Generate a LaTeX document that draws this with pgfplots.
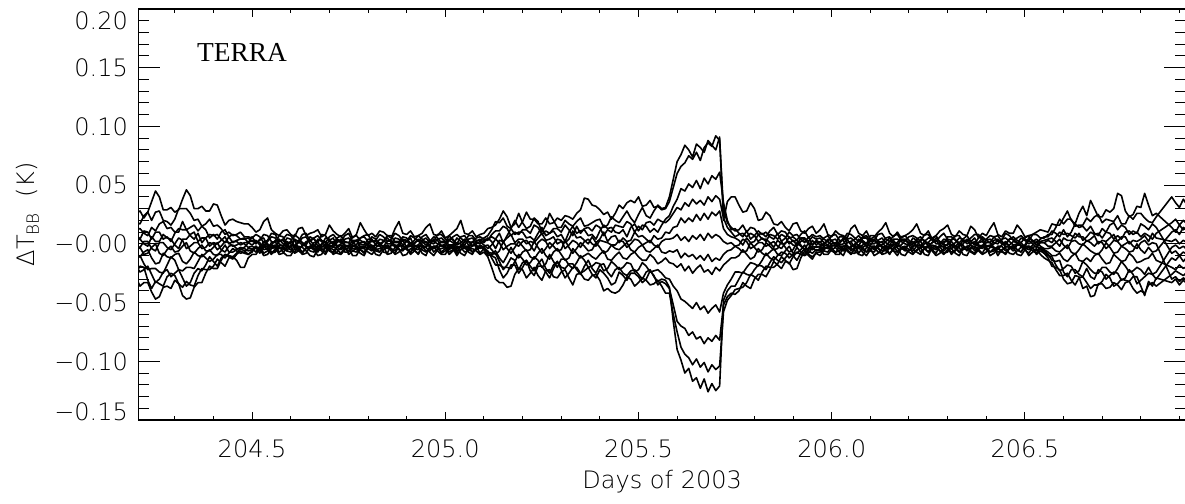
\documentclass[border=0pt]{standalone}
\usepackage{fontspec}
\setmainfont{DejaVu Sans ExtraLight}
\newfontfamily\terrafont{Liberation Serif}
\usepackage{pgfplots}
\pgfplotsset{compat=1.18}
\usepackage{pgfplotstable}

\pgfplotstableread{
x a b c d e f g h i j k l
204.20 26 18 12 8 3 -2 -6 -10 -14 -19 -24 -29
204.21 28 17 13 4 4 -3 -3 -11 -10 -24 -19 -36
204.22 22 24 9 11 0 2 -9 -7 -17 -22 -20 -33
204.23 27 27 7 10 -2 2 -8 -5 -22 -19 -31 -33
204.24 36 20 14 4 6 -4 -3 -12 -21 -26 -38 -41
204.25 45 27 11 10 2 -6 0 -17 -21 -33 -32 -47
204.26 40 28 17 10 2 1 -8 -16 -24 -30 -34 -45
204.27 29 20 19 4 8 1 -10 -8 -25 -24 -36 -37
204.28 29 19 13 6 5 -3 -5 -11 -18 -22 -28 -36
204.29 31 16 14 2 4 -5 -2 -12 -11 -28 -25 -38
204.30 27 21 10 9 -1 0 -7 -9 -14 -25 -27 -31
204.31 29 30 10 13 -4 5 -6 -8 -22 -22 -34 -34
204.32 38 30 19 12 4 3 -2 -15 -23 -29 -37 -44
204.33 46 30 12 12 4 -4 1 -17 -20 -36 -32 -47
204.34 41 26 14 7 8 -2 -6 -13 -20 -33 -35 -46
204.35 30 20 16 4 10 1 -8 -7 -21 -25 -36 -37
204.36 30 21 11 9 2 1 -4 -10 -15 -21 -27 -33
204.37 32 15 15 1 5 -4 -1 -11 -9 -23 -21 -33
204.38 28 17 12 5 5 -3 -6 -8 -12 -18 -22 -25
204.39 28 21 5 8 -2 1 -6 -5 -15 -11 -22 -19
204.40 34 15 8 7 1 0 -3 -9 -13 -15 -19 -21
204.41 33 16 4 8 0 -5 1 -10 -9 -19 -13 -21
204.42 24 13 10 4 3 -2 -5 -6 -9 -12 -16 -14
204.43 16 8 12 1 6 2 -7 -1 -12 -9 -19 -9
204.44 20 10 6 6 0 1 -2 -7 -8 -10 -12 -11
204.45 21 7 8 1 2 -2 -1 -7 -4 -11 -11 -13
204.46 19 8 7 3 2 -1 -4 -5 -6 -8 -14 -9
204.47 18 10 4 4 -1 1 -4 -3 -8 -4 -20 -6
204.48 17 6 5 4 1 0 -3 -4 -7 -6 -20 -8
204.49 17 6 1 5 1 -3 1 -6 -4 -9 -12 -9
204.50 14 5 6 2 3 -2 -1 -5 -4 -7 -9 -6
204.51 10 8 1 3 0 -4 2 -2 -7 -2 -9 -3
204.52 12 6 3 -1 4 -3 1 -5 -2 -6 -4 -8
204.53 19 1 8 -3 5 2 -5 0 -8 -1 -10 -2
204.54 22 3 7 2 -2 0 -4 -1 -6 -3 -9 -5
204.55 12 9 2 6 -1 -3 1 -7 -2 -8 -4 -9
204.56 9 8 1 5 3 -2 2 -6 -1 -7 -3 -4
204.57 7 2 7 0 4 2 -4 -1 -7 -3 -9 -2
204.58 11 4 6 -2 0 3 -3 -2 -5 -4 -8 -7
204.59 12 8 0 5 -2 -1 2 -6 -1 -6 -3 -10
204.60 8 7 2 4 -3 1 0 -7 -3 -1 -5 -10
204.61 6 3 8 -2 4 3 -3 -1 -8 -2 -7 -4
204.62 13 2 5 1 2 -4 3 -3 -6 -5 -2 -6
204.63 14 8 1 5 -1 -2 1 -7 -1 -9 -3 -8
204.64 7 9 -1 6 1 2 -2 -4 -2 -8 -6 -3
204.65 9 2 6 0 3 3 -4 -2 -6 -2 -10 -3
204.66 10 5 4 -3 5 -1 1 -1 -7 -4 -11 -5
204.67 12 7 1 4 -2 -3 2 -6 -2 -7 -4 -10
204.68 6 3 8 2 -1 0 -5 -3 -4 -2 -6 -9
204.69 8 1 7 -2 5 2 -4 0 -7 -3 -9 -2
204.70 16 6 2 3 4 -2 0 -6 -1 -6 -3 -4
204.71 11 8 0 5 -1 -3 2 -7 -2 -8 -5 -9
204.72 8 4 5 -2 1 3 -3 -2 -5 -3 -8 -7
204.73 6 2 7 0 4 1 -5 -1 -8 -1 -9 -3
204.74 9 7 1 4 -2 -1 2 -4 -3 -7 -5 -2
204.75 13 9 1 5 -2 -2 1 -6 -1 -7 -3 -9
204.76 5 2 6 1 3 0 -4 -1 -6 -2 -10 -6
204.77 8 3 7 -1 3 3 -4 -2 -7 -3 -10 -4
204.78 18 5 3 5 0 -3 1 -5 -2 -5 -4 -8
204.79 12 7 1 6 -1 -3 2 -7 -2 -8 -4 -10
204.80 7 8 -1 2 4 1 -2 -3 -4 -1 -7 -3
204.81 9 2 6 -2 4 2 -5 -1 -6 -2 -9 -3
204.82 6 3 4 -1 -1 2 0 -6 -3 -4 -5 -9
204.83 11 8 0 4 -2 -1 1 -7 -1 -7 -4 -10
204.84 10 6 2 3 2 -2 -3 -2 -7 -3 -2 -5
204.85 7 2 7 0 5 2 -4 -1 -8 -2 -9 -3
204.86 5 4 7 0 1 3 -1 -4 -1 -6 -8 -4
204.87 13 9 1 5 -1 -3 2 -6 -2 -8 -3 -9
204.88 19 7 1 4 -2 0 2 -1 -5 -2 -4 -7
204.89 9 3 6 -1 4 3 -5 -2 -6 -1 -10 -4
204.90 8 2 5 2 3 -3 -2 -5 -2 -4 -9 -3
204.91 11 7 0 5 -2 -2 1 -7 -1 -8 -4 -9
204.92 6 5 3 -2 0 1 -4 -3 -6 -1 -5 -6
204.93 7 2 7 -1 4 3 -5 -1 -8 -3 -9 -2
204.94 9 6 4 3 2 -1 1 -2 -3 -5 -3 -8
204.95 14 8 1 5 -1 -3 2 -6 -2 -7 -3 -10
204.96 17 3 2 1 -1 2 -3 -6 -1 -4 -7 -2
204.97 8 2 6 0 4 2 -4 -2 -7 -2 -10 -3
204.98 7 8 5 4 3 0 -1 -3 -4 -2 -5 -6
204.99 11 8 1 5 -2 -2 2 -7 -1 -8 -4 -9
205.00 5 4 1 2 0 -2 2 -4 -2 -6 -3 -9
205.01 7 3 7 -1 4 3 -5 -1 -7 -2 -9 -3
205.02 10 6 3 -1 4 1 -2 -1 -5 -3 -6 -4
205.03 13 8 0 5 -1 -3 1 -6 -2 -8 -3 -10
205.04 20 5 6 2 1 -3 0 -5 -3 -1 -8 -5
205.05 9 2 7 -1 4 2 -4 -2 -7 -2 -10 -3
205.06 8 7 2 4 -1 2 -3 -2 -6 -4 -4 -7
205.07 11 7 1 5 -2 -2 2 -7 -1 -7 -4 -9
205.08 6 3 5 1 2 0 -1 -4 -2 -5 -6 -3
205.09 8 3 6 0 4 2 -4 -1 -8 -3 -9 -2
205.10 9 5 4 3 1 -1 -2 -3 -4 -3 -7 -5
205.11 13 7 4 3 5 -4 -1 -7 -6 -8 -11 -10
205.12 14 12 6 8 2 -1 -5 -8 -12 -10 -20 -9
205.13 16 19 4 11 -4 4 -9 -6 -18 -12 -30 -8
205.14 21 18 9 11 3 1 -6 -12 -18 -22 -33 -15
205.15 28 22 1 15 2 -5 2 -16 -20 -29 -33 -22
205.16 23 15 7 13 5 -2 -4 -10 -20 -25 -37 -18
205.17 14 13 13 7 8 0 -8 -3 -21 -18 -36 -12
205.18 17 20 8 10 1 0 -3 -9 -15 -18 -26 -14
205.19 26 14 10 8 4 -2 2 -12 -9 -25 -21 -22
205.20 18 19 10 12 4 2 -2 -7 -13 -20 -22 -16
205.21 13 27 5 12 0 3 -6 -5 -18 -14 -29 -14
205.22 15 21 6 9 2 -1 -5 -11 -16 -23 -25 -19
205.23 22 21 3 16 1 -6 2 -13 -11 -27 -20 -23
205.24 19 17 9 14 5 1 -3 -8 -14 -19 -27 -17
205.25 10 17 14 8 9 4 -8 -4 -20 -19 -31 -13
205.26 16 22 7 11 3 2 -4 -10 -17 -24 -23 -21
205.27 26 17 9 9 4 -4 1 -13 -9 -29 -22 -25
205.28 20 18 11 13 6 0 -2 -7 -15 -21 -28 -18
205.29 14 22 6 13 0 4 -6 -4 -20 -15 -29 -15
205.30 14 20 8 10 2 3 -5 -9 -13 -22 -24 -20
205.31 20 24 2 16 1 -4 3 -14 -13 -29 -22 -21
205.32 17 23 10 12 4 -1 -3 -12 -18 -25 -29 -17
205.33 15 21 15 7 11 3 -8 -4 -21 -20 -35 -17
205.34 19 26 9 15 5 1 -4 -8 -16 -20 -26 -22
205.35 22 29 11 9 6 -3 1 -12 -10 -25 -25 -26
205.36 15 39 12 13 3 2 -2 -10 -14 -23 -30 -19
205.37 16 38 7 14 0 4 -6 -8 -20 -20 -31 -14
205.38 18 33 8 11 6 0 -5 -11 -19 -26 -27 -21
205.39 20 32 4 16 1 -2 1 -13 -16 -29 -26 -25
205.40 21 29 11 14 4 3 -3 -9 -17 -22 -31 -18
205.41 14 25 16 7 10 2 -8 -6 -23 -25 -40 -17
205.42 16 27 13 12 2 1 -6 -13 -21 -29 -38 -24
205.43 23 21 14 10 6 -1 -1 -14 -15 -35 -41 -28
205.44 20 26 10 16 7 -1 -4 -10 -18 -33 -42 -22
205.45 18 33 9 15 1 3 -5 -7 -22 -24 -40 -20
205.46 23 30 12 14 5 2 -2 -12 -20 -27 -35 -25
205.47 28 35 6 19 2 -3 1 -13 -16 -31 -28 -27
205.48 22 37 14 17 3 0 -5 -9 -17 -25 -30 -23
205.49 18 35 17 10 10 4 -7 -7 -24 -25 -36 -22
205.50 25 40 11 15 6 3 -3 -11 -22 -28 -33 -26
205.51 31 32 16 12 7 -1 -1 -14 -16 -33 -29 -30
205.52 24 33 15 18 4 1 -6 -14 -19 -30 -31 -24
205.53 22 37 10 19 1 3 -7 -9 -24 -23 -35 -22
205.54 28 31 13 16 7 -1 -4 -12 -23 -27 -34 -28
205.55 33 32 10 21 4 -3 -1 -17 -22 -35 -31 -32
205.56 30 29 16 19 5 2 -7 -15 -25 -32 -36 -30
205.57 31 30 21 18 10 4 -8 -12 -29 -34 -42 -31
205.58 40 36 24 21 9 4 -6 -16 -30 -38 -42 -37
205.59 55 48 32 26 14 5 -7 -17 -36 -52 -60 -66
205.60 70 60 38 31 15 8 -5 -20 -40 -66 -75 -90
205.61 76 66 47 29 22 3 -12 -17 -47 -70 -88 -99
205.62 84 69 45 35 18 6 -8 -23 -49 -72 -94 -110
205.63 80 75 51 32 22 2 -11 -19 -52 -78 -97 -106
205.64 74 72 48 38 19 7 -9 -25 -55 -75 -103 -117
205.65 85 78 54 34 25 4 -13 -21 -50 -81 -98 -114
205.66 82 71 47 37 20 8 -10 -18 -56 -79 -105 -123
205.67 78 82 56 33 26 3 -14 -24 -53 -85 -101 -115
205.68 88 86 51 40 21 9 -9 -22 -59 -80 -109 -126
205.69 84 83 58 36 27 5 -15 -26 -55 -83 -103 -119
205.70 80 92 55 41 24 8 -12 -20 -52 -78 -107 -125
205.71 91 88 61 38 28 6 -14 -23 -58 -82 -104 -121
205.72 20 30 35 22 13 2 -9 -18 -42 -52 -58 -48
205.73 36 18 20 14 8 0 -6 -15 -35 -45 -48 -40
205.74 40 14 12 10 6 1 -5 -12 -30 -42 -44 -36
205.75 40 11 13 6 5 -2 -2 -12 -24 -43 -39 -36
205.76 33 12 9 8 3 -1 -4 -10 -24 -40 -38 -30
205.77 27 16 6 9 -1 4 -7 -5 -25 -33 -37 -24
205.78 28 10 11 6 5 2 -6 -9 -20 -36 -33 -26
205.79 35 14 4 9 1 -4 1 -13 -16 -38 -26 -27
205.80 30 13 7 7 2 -2 -3 -11 -17 -30 -28 -22
205.81 20 8 11 2 8 1 -7 -4 -19 -26 -31 -18
205.82 21 9 8 5 4 1 -5 -8 -14 -26 -24 -19
205.83 27 6 10 2 4 -2 1 -10 -8 -28 -19 -22
205.84 24 11 6 8 1 0 -2 -7 -12 -22 -20 -16
205.85 17 14 4 7 -3 2 -5 -4 -14 -15 -20 -11
205.86 16 8 9 4 3 -2 -4 -9 -10 -18 -17 -14
205.87 19 11 2 8 0 -4 2 -10 -7 -21 -11 -16
205.88 14 10 5 6 0 1 -3 -6 -8 -15 -14 -12
205.89 11 5 10 0 6 2 -7 -2 -12 -16 -17 -8
205.90 17 6 7 3 2 -1 -5 -8 -9 -22 -11 -10
205.91 18 3 8 -1 3 -2 1 -8 -3 -21 -7 -14
205.92 11 8 4 5 -1 2 -2 -5 -7 -12 -9 -8
205.93 9 11 1 5 -5 4 -5 -1 -9 -6 -10 -4
205.94 13 5 6 2 1 0 -4 -6 -5 -10 -8 -9
205.95 15 8 -1 6 -1 -5 3 -8 -2 -13 -3 -11
205.96 9 6 3 4 2 -2 -1 -5 -3 -7 -6 -8
205.97 12 7 1 5 -1 -3 2 -6 -2 -7 -4 -10
205.98 17 4 5 1 -1 1 -3 -2 -6 -4 -9 -5
205.99 8 2 7 -1 4 2 -4 -1 -7 -3 -9 -2
206.00 6 7 2 3 3 -1 0 -4 -2 -6 -5 -3
206.01 11 8 0 4 -2 -2 1 -7 -1 -8 -3 -9
206.02 8 3 6 -1 0 2 -2 -6 -4 -2 -7 -9
206.03 7 3 6 0 5 3 -5 -2 -6 -2 -10 -4
206.04 5 9 1 4 4 -3 1 -1 -5 -5 -3 -6
206.05 13 8 2 5 -1 -3 2 -6 -2 -8 -4 -9
206.06 16 5 4 2 -2 0 -4 -3 -1 -8 -6 -4
206.07 9 2 7 -2 4 2 -4 -1 -8 -1 -9 -3
206.08 7 6 3 5 1 2 -1 -5 -3 -3 -10 -7
206.09 11 7 0 5 -2 -2 1 -7 -1 -7 -3 -10
206.10 4 2 7 0 3 -1 -2 -2 -6 -5 -4 -5
206.11 6 3 7 0 4 3 -5 -2 -7 -3 -10 -2
206.12 10 8 2 3 -1 1 0 -4 -2 -7 -8 -3
206.13 13 9 1 5 -1 -3 2 -6 -2 -8 -4 -9
206.14 18 4 5 1 2 -2 -3 -6 -4 -2 -5 -8
206.15 9 2 6 -1 5 2 -4 -1 -8 -2 -9 -3
206.16 6 7 1 4 0 3 -1 -1 -5 -6 -3 -6
206.17 10 8 1 4 -2 -2 1 -7 -1 -7 -3 -10
206.18 5 3 6 2 4 -1 -4 -3 -3 -4 -9 -4
206.19 7 3 7 0 4 3 -5 -2 -6 -3 -10 -4
206.20 9 6 3 -1 1 0 1 -5 -6 -1 -5 -7
206.21 12 7 0 5 -1 -3 2 -6 -2 -8 -4 -9
206.22 17 5 4 3 -2 2 -2 -2 -1 -6 -7 -5
206.23 9 2 6 -2 4 2 -4 -1 -7 -2 -9 -3
206.24 7 8 2 2 3 -3 0 -4 -4 -3 -4 -9
206.25 11 8 1 5 -2 -2 1 -7 -1 -7 -3 -10
206.26 4 3 5 5 1 1 -3 -1 -5 -5 -6 -3
206.27 7 2 7 0 5 3 -5 -2 -8 -3 -10 -2
206.28 11 6 1 0 2 -1 -1 -6 -2 -2 -8 -6
206.29 13 9 0 4 -1 -3 2 -6 -2 -8 -4 -9
206.30 16 4 6 3 -1 0 2 -3 -4 -7 -3 -5
206.31 8 3 6 -1 4 2 -4 -1 -7 -1 -9 -4
206.32 6 7 3 1 4 -2 -2 -2 -6 -4 -5 -8
206.33 11 7 1 5 -2 -2 1 -7 -1 -7 -3 -10
206.34 8 2 4 4 0 3 -4 -5 -1 -3 -9 -4
206.35 7 2 7 0 4 3 -5 -2 -6 -3 -10 -3
206.36 15 5 2 2 2 -1 0 -1 -3 -6 -4 -7
206.37 12 8 0 5 -1 -3 2 -6 -2 -8 -4 -9
206.38 5 8 5 -1 1 1 -2 -4 -5 -2 -6 -5
206.39 9 3 6 -2 5 2 -4 -1 -8 -2 -9 -2
206.40 7 4 3 3 -2 -2 1 -3 -2 -5 -7 -3
206.41 13 7 1 4 -2 -2 1 -7 -1 -7 -3 -10
206.42 18 6 6 1 3 0 -3 -6 -4 -4 -3 -8
206.43 8 2 7 0 4 3 -5 -2 -7 -3 -10 -4
206.44 6 3 2 4 0 2 -1 -2 -6 -7 -5 -6
206.45 11 9 0 5 -1 -3 2 -6 -2 -8 -4 -9
206.46 9 7 4 2 4 -1 -2 -4 -3 -3 -8 -4
206.47 9 3 6 -1 4 2 -4 -1 -6 -2 -9 -3
206.48 16 5 3 0 1 1 0 -5 -1 -5 -6 -9
206.49 12 7 1 5 -2 -2 1 -7 -1 -7 -3 -10
206.50 6 4 5 3 -1 -2 -3 -2 -5 -2 -4 -5
206.51 7 2 7 0 5 3 -5 -2 -8 -3 -10 -2
206.52 8 8 2 2 3 0 -1 -4 -3 -6 -7 -3
206.53 10 8 1 4 -1 -3 2 -6 -2 -8 -4 -9
206.54 12 5 4 1 2 1 -2 -3 -4 -4 -9 -6
206.55 11 5 6 1 3 1 -4 -5 -8 -6 -12 -8
206.56 10 8 6 3 4 -2 -4 -7 -10 -9 -14 -12
206.57 17 8 11 1 5 -2 -3 -10 -11 -14 -16 -19
206.58 16 14 9 6 2 1 -6 -10 -18 -15 -22 -20
206.59 16 21 6 10 -2 4 -7 -8 -23 -14 -27 -22
206.60 22 17 12 8 5 -1 -4 -13 -21 -24 -27 -30
206.61 28 21 6 9 3 -4 -1 -15 -18 -28 -25 -34
206.62 20 21 10 7 3 2 -7 -11 -19 -22 -31 -33
206.63 17 15 17 5 9 3 -9 -8 -25 -22 -35 -27
206.64 26 16 14 9 6 0 -5 -14 -23 -26 -29 -28
206.65 32 16 15 3 6 -1 0 -15 -15 -28 -28 -38
206.66 24 22 11 6 2 3 -3 -12 -18 -21 -33 -36
206.67 37 19 15 10 4 1 -6 -15 -22 -28 -38 -45
206.68 30 23 9 8 7 -2 -8 -10 -25 -30 -35 -44
206.69 23 25 7 9 0 2 -9 -8 -25 -22 -35 -34
206.70 23 18 13 5 3 1 -5 -13 -20 -24 -32 -34
206.71 29 21 10 10 2 -4 1 -17 -20 -30 -26 -38
206.72 27 20 16 9 5 -1 -3 -16 -24 -27 -29 -37
206.73 30 19 18 4 8 3 -8 -9 -26 -24 -36 -33
206.74 43 24 12 7 2 2 -7 -12 -21 -25 -34 -35
206.75 41 17 16 4 6 -2 -2 -15 -15 -31 -30 -39
206.76 28 17 14 10 6 0 -4 -14 -19 -29 -31 -33
206.77 23 24 8 11 0 2 -7 -8 -24 -22 -32 -32
206.78 25 21 11 8 3 -2 -6 -11 -23 -26 -28 -38
206.79 32 26 9 10 2 -4 0 -16 -20 -34 -28 -42
206.80 31 26 17 6 4 1 -5 -15 -22 -31 -36 -40
206.81 43 22 15 9 7 3 -8 -13 -26 -28 -44 -42
206.82 33 19 12 7 2 -1 -3 -12 -20 -25 -32 -35
206.83 24 18 17 4 9 1 -7 -8 -26 -26 -36 -33
206.84 26 23 14 9 5 0 -6 -14 -24 -30 -29 -36
206.88 14 40 -8 18 2 -30 10 -20 -3 -12 -33 -26
206.89 10 35 -6 21 4 -28 12 -22 -1 -14 -30 -23
206.90 16 31 -10 16 0 -32 8 -18 -4 -10 -35 -25
206.91 12 38 -7 20 3 -29 14 -21 -2 -15 -31 -27
206.92 15 33 -9 17 1 -31 11 -19 -5 -11 -34 -24
}\datatable

\begin{document}
\begin{tikzpicture}
\begin{axis}[
  name=ax,
  scale only axis,
  width=523.85bp, height=205.5bp,
  xmin=204.2055, xmax=206.917,
  ymin=-0.15, ymax=0.20,
  xtick={204.5,205,205.5,206,206.5},
  xticklabels={204.5,205.0,205.5,206.0,206.5},
  minor xtick={204.3,204.4,204.6,204.7,204.8,204.9,205.1,205.2,205.3,205.4,205.6,205.7,205.8,205.9,206.1,206.2,206.3,206.4,206.6,206.7,206.8,206.9},
  ytick={-0.15,-0.10,-0.05,0,0.05,0.10,0.15,0.20},
  yticklabels={,−0.10,−0.05,−0.00,0.05,0.10,0.15,},
  minor ytick={-0.14,-0.13,-0.12,-0.11,-0.09,-0.08,-0.07,-0.06,-0.04,-0.03,-0.02,-0.01,0.01,0.02,0.03,0.04,0.06,0.07,0.08,0.09,0.11,0.12,0.13,0.14,0.16,0.17,0.18,0.19},
  tick align=inside,
  tick pos=both,
  major x tick style={/pgfplots/major tick length=4bp},
  minor x tick style={/pgfplots/minor tick length=2bp},
  major y tick style={/pgfplots/major tick length=11bp},
  minor y tick style={/pgfplots/minor tick length=5.5bp},
  every tick/.append style={black, line width=0.5bp},
  axis line style={black, line width=0.6bp},
  tick label style={font=\fontsize{12bp}{14bp}\selectfont},
  xticklabel style={anchor=north, inner sep=0pt, yshift=-9.75bp},
  yticklabel style={anchor=east, inner sep=0pt, xshift=-5bp},
]
\pgfplotsinvokeforeach{a,b,c,d,e,f,g,h,i,j,k,l}{
  \addplot[black, line width=0.8bp, line join=round, no markers] table[x=x, y expr=\thisrow{#1}/1000] {\datatable};
}
\coordinate (L20) at (axis cs:204.2055,0.19);
\coordinate (L15) at (axis cs:204.2055,-0.143);
\coordinate (YL) at (axis description cs:0,0.5);
\coordinate (XL) at (axis description cs:0.5,0);
\coordinate (TL) at (axis description cs:0,1);
\end{axis}
\begin{scope}[every node/.style={inner sep=0pt}]
\node[anchor=east, font=\fontsize{12bp}{14bp}\selectfont] at ([xshift=-5bp]L20) {0.20};
\node[anchor=east, font=\fontsize{12bp}{14bp}\selectfont] at ([xshift=-5bp]L15) {−0.15};
\node[anchor=north, font=\fontsize{12bp}{14bp}\selectfont] at ([yshift=-25bp]XL) {Days of 2003};
\node[rotate=90, anchor=base, font=\fontsize{12bp}{14bp}\selectfont] at ([xshift=-51.7bp]YL) {ΔT\textsubscript{BB}\ \ (K)};
\node[anchor=base west, font=\terrafont\fontsize{13.7bp}{16bp}\selectfont] at ([xshift=29.2bp, yshift=-26.35bp]TL) {TERRA};
\end{scope}
\pgfresetboundingbox
\useasboundingbox ([xshift=-69.15bp,yshift=-42bp]ax.south west) rectangle ([xshift=523.35bp,yshift=210bp]ax.south west);
\end{tikzpicture}
\end{document}
